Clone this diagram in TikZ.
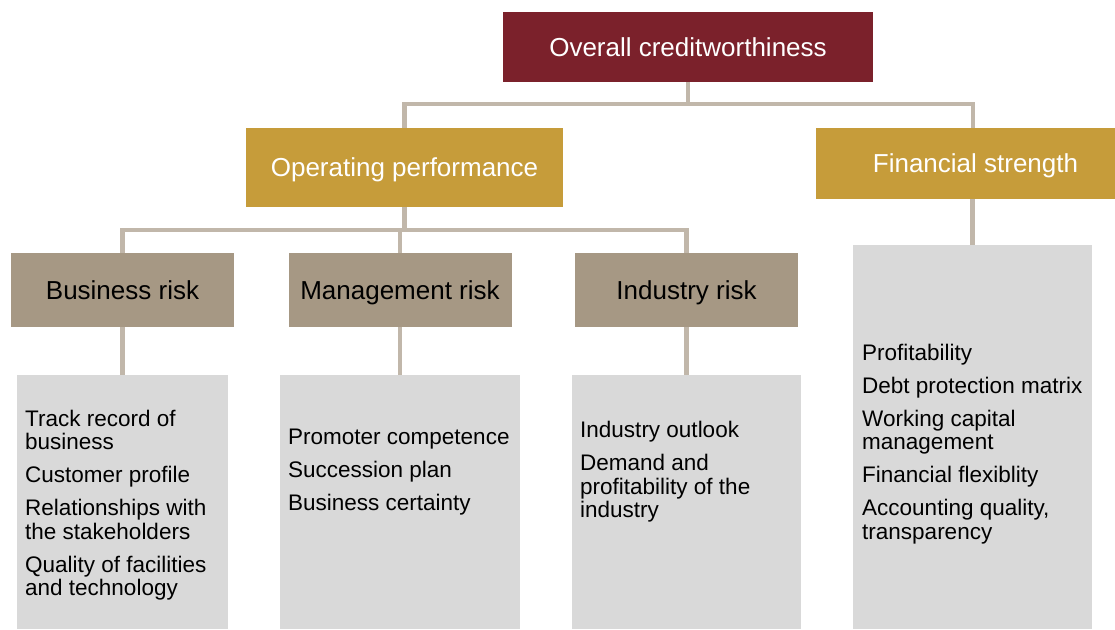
\documentclass[tikz,border=0pt]{standalone}
\usepackage{fontspec}
\setmainfont{Liberation Sans}
\definecolor{wine}{HTML}{7B212B}
\definecolor{ochre}{HTML}{C69C3A}
\definecolor{taupe}{HTML}{A69884}
\definecolor{panel}{HTML}{D9D9D9}
\definecolor{linkc}{HTML}{C1B7AA}

\begin{document}
\begin{tikzpicture}[x=1pt,y=-1pt,
  box/.style={rectangle, inner sep=0pt, text height=18.6pt, text depth=0pt,
    font=\fontsize{26}{30}\selectfont},
  topbox/.style={box, fill=wine, text=white},
  midbox/.style={box, fill=ochre, text=white},
  riskbox/.style={box, fill=taupe, text=black, minimum width=223pt, minimum height=74pt},
  panelbox/.style={rectangle, fill=panel, inner sep=0pt},
  items/.style={anchor=west, align=left, inner sep=0pt, font=\fontsize{22.5}{23.5}\selectfont},
  link/.style={draw=linkc, line width=4.5pt}]
\useasboundingbox (0,0) rectangle (1115,629);

% top level
\node[topbox, minimum width=370pt, minimum height=70pt] (ov) at (688,47) {Overall creditworthiness};

% second level
\node[midbox, minimum width=317pt, minimum height=79pt] (op) at (404.5,167.5) {Operating performance};
\node[midbox, minimum width=299pt, minimum height=71pt] (fs) at (965.5,163.5) {\hspace*{20pt}Financial strength};

% risk categories
\node[riskbox] (br) at (122.5,290) {Business risk};
\node[riskbox] (mr) at (400,290) {Management risk};
\node[riskbox] (ir) at (686.5,290) {Industry risk};

% detail panels
\node[panelbox, minimum width=211pt, minimum height=254pt] (bp) at (122.5,502) {};
\node[panelbox, minimum width=240pt, minimum height=254pt] (mp) at (400,502) {};
\node[panelbox, minimum width=229pt, minimum height=254pt] (ip) at (686.5,502) {};
\node[panelbox, minimum width=239pt, minimum height=384pt] (fp) at (972.5,437) {};

\node[items] (bt) at (25,505) {Track record of\\ business\\[9.5pt]
  Customer profile\\[9.5pt]
  Relationships with\\ the stakeholders\\[9.5pt]
  Quality of facilities\\ and technology};
\node[items] (mt) at (288,472) {Promoter competence\\[9.5pt]
  Succession plan\\[9.5pt]
  Business certainty};
\node[items] (it) at (580,472) {Industry outlook\\[9.5pt]
  Demand and\\ profitability of the\\ industry};
\node[items] (ft) at (862,444) {Profitability\\[9.5pt]
  Debt protection matrix\\[9.5pt]
  Working capital\\ management\\[9.5pt]
  Financial flexiblity\\[9.5pt]
  Accounting quality,\\ transparency};

% connectors
\coordinate (j1) at (688,104);
\coordinate (fsdrop) at (973,128);
\draw[link] (ov.south) -- (j1);
\draw[link] (op.north) |- (j1) -| (fsdrop);

\coordinate (j2) at (403,230);
\draw[link] (op.south) -- (op.south |- j2);
\draw[link] (br.north) |- (j2) -| (ir.north);
\draw[link] (mr.north) -- (mr.north |- j2);

\draw[link] (br.south) -- (bp.north);
\draw[link] (mr.south) -- (mp.north);
\draw[link] (ir.south) -- (ip.north);
\draw[link] (fp.north) -- (fp.north |- fs.south);
\end{tikzpicture}
\end{document}
